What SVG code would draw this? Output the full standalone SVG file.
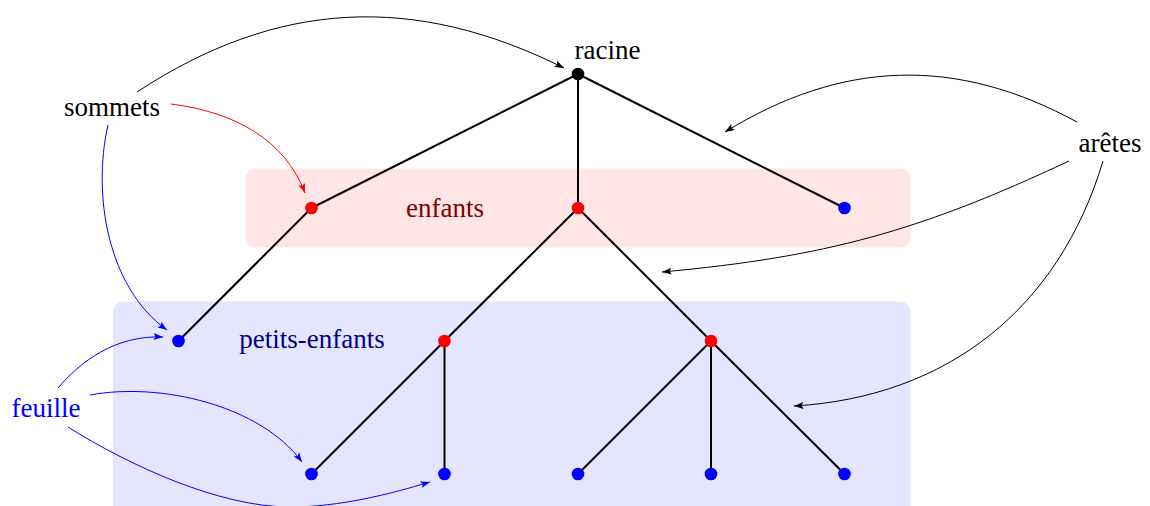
<svg xmlns="http://www.w3.org/2000/svg" width="1150" height="506" viewBox="0 0 1150 506">
<style>
.lbl{font-family:"Liberation Serif","Times New Roman",serif;font-size:27px;text-anchor:middle}
.edge{stroke:#000;stroke-width:2;fill:none}
.arr{fill:none;stroke-width:1}
.nb{fill:#0000ff}.nr{fill:#ff0000}.nk{fill:#000}
</style>
<defs>
<marker id="ak" markerUnits="userSpaceOnUse" orient="auto" markerWidth="12" markerHeight="10" refX="10" refY="5" viewBox="0 0 12 10" overflow="visible"><path d="M10,5 L0.5,1.5 L2.5,5 L0.5,8.5 Z" fill="#000"/></marker>
<marker id="ar" markerUnits="userSpaceOnUse" orient="auto" markerWidth="12" markerHeight="10" refX="10" refY="5" viewBox="0 0 12 10" overflow="visible"><path d="M10,5 L0.5,1.5 L2.5,5 L0.5,8.5 Z" fill="#ff0000"/></marker>
<marker id="ab" markerUnits="userSpaceOnUse" orient="auto" markerWidth="12" markerHeight="10" refX="10" refY="5" viewBox="0 0 12 10" overflow="visible"><path d="M10,5 L0.5,1.5 L2.5,5 L0.5,8.5 Z" fill="#0000ff"/></marker>
</defs>
<g id="bands">
<rect x="245.5" y="168.5" width="665" height="79" rx="10" fill="#ffe5e5"/>
<rect x="113" y="301.5" width="797.5" height="220" rx="10" fill="#e5e5ff"/>
</g>
<g id="band-labels">
<text class="lbl" x="445" y="217" fill="#800000">enfants</text>
<text class="lbl" x="312" y="348" fill="#000080">petits-enfants</text>
</g>
<g id="connectors">
<g id="tree-edges" class="edge">
<line x1="578" y1="74" x2="311.5" y2="208"/>
<line x1="578" y1="74" x2="578" y2="208"/>
<line x1="578" y1="74" x2="844.5" y2="208"/>
<line x1="311.5" y1="208" x2="178.5" y2="341"/>
<line x1="578" y1="208" x2="444.5" y2="341"/>
<line x1="578" y1="208" x2="711" y2="341"/>
<line x1="444.5" y1="341" x2="311.5" y2="474"/>
<line x1="444.5" y1="341" x2="444.5" y2="474"/>
<line x1="711" y1="341" x2="578" y2="474"/>
<line x1="711" y1="341" x2="711" y2="474"/>
<line x1="711" y1="341" x2="844.5" y2="474"/>
</g>
<g id="annotation-arrows" class="arr">
<path d="M137,92 C277,0 414,-7 564,68" stroke="#000" marker-end="url(#ak)"/>
<path d="M171,104 C235,112 285,140 305,193" stroke="#ff0000" marker-end="url(#ar)"/>
<path d="M108,125 C92,195 108,288 167,330" stroke="#0000ff" marker-end="url(#ab)"/>
<path d="M58,388 C80,362 115,335 163,337" stroke="#0000ff" marker-end="url(#ab)"/>
<path d="M90,395 C160,382 260,405 302,462" stroke="#0000ff" marker-end="url(#ab)"/>
<path d="M68,427 C130,466 220,507 290,507 C340,507 390,494 430,482" stroke="#0000ff" marker-end="url(#ab)"/>
<path d="M1077,122 C956,56 842,60 725,132" stroke="#000" marker-end="url(#ak)"/>
<path d="M1069,161 C920,231 826,257 662,272" stroke="#000" marker-end="url(#ak)"/>
<path d="M1103,161 C1059,308 948,397 794,406" stroke="#000" marker-end="url(#ak)"/>
</g>
</g>
<g id="racine"><circle class="nk" cx="578" cy="74" r="6.3"/><text class="lbl" x="607.5" y="59" fill="#000">racine</text></g>
<g id="enfant1"><circle class="nr" cx="311.5" cy="208" r="6.3"/></g>
<g id="enfant2"><circle class="nr" cx="578" cy="208" r="6.3"/></g>
<g id="enfant3"><circle class="nb" cx="844.5" cy="208" r="6.3"/></g>
<g id="petit1"><circle class="nb" cx="178.5" cy="341" r="6.3"/></g>
<g id="petit2"><circle class="nr" cx="444.5" cy="341" r="6.3"/></g>
<g id="petit3"><circle class="nr" cx="711" cy="341" r="6.3"/></g>
<g id="feuille1"><circle class="nb" cx="311.5" cy="474" r="6.3"/></g>
<g id="feuille2"><circle class="nb" cx="444.5" cy="474" r="6.3"/></g>
<g id="feuille3"><circle class="nb" cx="578" cy="474" r="6.3"/></g>
<g id="feuille4"><circle class="nb" cx="711" cy="474" r="6.3"/></g>
<g id="feuille5"><circle class="nb" cx="844.5" cy="474" r="6.3"/></g>
<g id="sommets"><text class="lbl" x="112" y="116" fill="#000">sommets</text></g>
<g id="aretes"><text class="lbl" x="1110" y="151.5" fill="#000">arêtes</text></g>
<g id="feuille"><text class="lbl" x="46" y="416.5" fill="#0000ff">feuille</text></g>
</svg>
